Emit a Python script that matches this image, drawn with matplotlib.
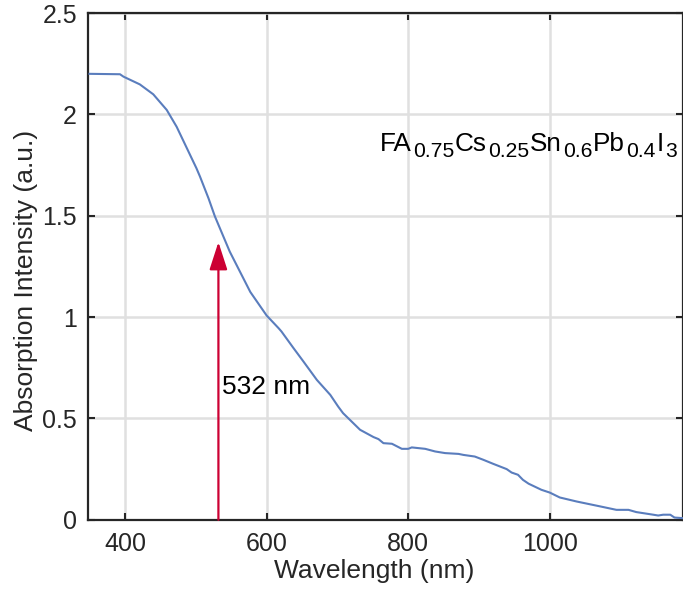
import numpy as np
import matplotlib
matplotlib.use('Agg')
import matplotlib.pyplot as plt
from matplotlib.transforms import offset_copy

plt.rcParams['font.family'] = ['Liberation Sans', 'DejaVu Sans']

# absorption spectrum
wavelength = [350, 393, 398, 421, 440, 459, 473, 501, 506, 518, 527, 548, 577,
              600, 617, 621, 638, 652, 671, 690, 701, 708, 720, 732, 751,
              758, 765, 777, 791, 800, 805, 824, 838, 852, 871, 878, 894, 906,
              920, 939, 946, 955, 962, 970, 976, 988, 1000, 1014, 1038, 1071,
              1094, 1111, 1122, 1146, 1153, 1160, 1170, 1176, 1188]
absorption = [2.20, 2.198, 2.186, 2.148, 2.099, 2.022, 1.939, 1.734, 1.693,
              1.586, 1.497, 1.323, 1.124, 1.008, 0.945, 0.929, 0.847,
              0.781, 0.690, 0.616, 0.559, 0.526, 0.485, 0.444, 0.408, 0.398,
              0.378, 0.375, 0.350, 0.350, 0.357, 0.350, 0.337, 0.329, 0.325,
              0.320, 0.312, 0.296, 0.276, 0.250, 0.233, 0.222, 0.197, 0.178,
              0.168, 0.148, 0.134, 0.110, 0.090, 0.066, 0.049, 0.049, 0.038,
              0.025, 0.021, 0.025, 0.025, 0.011, 0.008]

excitation_nm = 532
arrow_top = 1.37
# formula pieces: (text, is_subscript)
formula = [('FA', False), ('0.75', True), ('Cs', False), ('0.25', True),
           ('Sn', False), ('0.6', True), ('Pb', False), ('0.4', True),
           ('I', False), ('3', True)]

fig = plt.figure(figsize=(6.83, 5.92), dpi=100)
ax = fig.add_axes([0.129, 0.122, 0.871, 0.856])

ax.plot(wavelength, absorption, color='#5a7dbd', lw=1.5, zorder=3)

ax.annotate('', xy=(excitation_nm, arrow_top), xytext=(excitation_nm, 0),
            arrowprops=dict(arrowstyle='-|>,head_length=1.7,head_width=0.55',
                            color='#cc0033', lw=1.6, shrinkA=0, shrinkB=0),
            zorder=4)
ax.text(537, 0.656, '532 nm', fontsize=19, va='center', ha='left', color='black')

ax.set_xlim(348, 1188)
ax.set_ylim(0, 2.5)
ax.set_xticks([400, 600, 800, 1000])
ax.set_yticks([0, 0.5, 1, 1.5, 2, 2.5])
ax.set_yticklabels(['0', '0.5', '1', '1.5', '2', '2.5'])
ax.grid(True, color='#e0e0e0', lw=1.8, zorder=0)
ax.set_axisbelow(True)

ax.tick_params(direction='in', length=5, width=1.5, top=True, right=True,
               labelsize=18, colors='#262626')
ax.tick_params(axis='x', pad=9)
ax.tick_params(axis='y', pad=8)
for s in ax.spines.values():
    s.set_linewidth(1.6)
    s.set_color('#262626')

ax.set_xlabel('Wavelength (nm)', fontsize=19, color='#262626')
ax.set_ylabel('Absorption Intensity (a.u.)', fontsize=19, color='#262626')
ax.xaxis.set_label_coords(0.481, -0.077)
ax.yaxis.set_label_coords(-0.085, 0.473)

# chemical formula built piece by piece so subscripts keep their size
fig.canvas.draw()
renderer = fig.canvas.get_renderer()
cursor = 0.0
for piece, sub in formula:
    size = 15.2 if sub else 18.8
    dy = -6.5 if sub else 0
    tr = offset_copy(ax.transData, fig=fig, x=cursor, y=dy, units='dots')
    t = ax.text(760, 1.82, piece, fontsize=size, va='baseline', ha='left',
                color='black', transform=tr)
    cursor += t.get_window_extent(renderer).width + 1.0

fig.savefig('out.png', dpi=100)
